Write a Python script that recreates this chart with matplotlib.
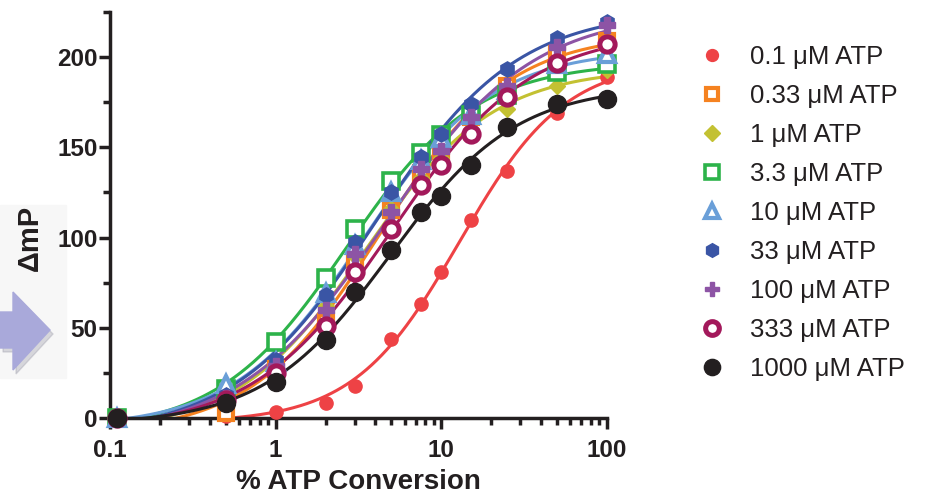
import numpy as np
import matplotlib
matplotlib.use("Agg")
import matplotlib.pyplot as plt
from matplotlib.patches import Polygon, Rectangle
from matplotlib.lines import Line2D
from matplotlib.ticker import FixedLocator, NullFormatter

plt.rcParams['font.family'] = ['Liberation Sans', 'DejaVu Sans']

# ---------------- data ----------------
conversion = [0.11, 0.5, 1, 2, 3, 5, 7.5, 10, 15, 25, 50, 100]

labels = ["0.1 \u03bcM ATP", "0.33 \u03bcM ATP", "1 \u03bcM ATP", "3.3 \u03bcM ATP",
          "10 \u03bcM ATP", "33 \u03bcM ATP", "100 \u03bcM ATP", "333 \u03bcM ATP",
          "1000 \u03bcM ATP"]

atp_0_1 = [0, 1, 3.5, 8.5, 18, 44, 63, 81, 110, 137, 169, 189]
atp_0_33 = [0, 3, 27, 53, 88, 115, 136, 148, 167, 184, 202, 209]
atp_1 = [0, 10, 28, 62, 90, 116, 133, 144, 160, 171, 184, 193]
atp_3_3 = [0, 16, 42, 77.5, 105, 131.5, 147, 157, 168, 179, 192, 196]
atp_10 = [0, 19, 31, 69, 96, 125, 143, 155, 168, 182, 196, 202]
atp_33 = [0, 13, 32, 68, 97.5, 125, 144.5, 157.5, 174, 193.5, 210.5, 219.5]
atp_100 = [0, 11, 29, 60, 91, 114, 138, 148, 167, 184, 205.5, 218]
atp_333 = [0, 10, 25, 51, 81, 105, 129, 140, 157.5, 178, 197, 207]
atp_1000 = [0, 8.5, 20, 43, 70, 93, 114, 123, 140, 161, 174, 177]

series = [atp_0_1, atp_0_33, atp_1, atp_3_3, atp_10, atp_33, atp_100, atp_333, atp_1000]

# ---------------- styles ----------------
colors = ['#ee4245', '#f58220', '#c3c132', '#2db34a', '#6a9fd8', '#3a55a5',
          '#8d54a5', '#a3195b', '#231f20']
styles = [
    dict(marker='o', ms=9.5, mfc=colors[0], mec=colors[0], mew=1),
    dict(marker='s', ms=10, mfc='white', mec=colors[1], mew=3),
    dict(marker='D', ms=8.5, mfc=colors[2], mec=colors[2], mew=1),
    dict(marker='s', ms=11, mfc='white', mec=colors[3], mew=2.6),
    dict(marker='^', ms=11, mfc='white', mec=colors[4], mew=3),
    dict(marker='h', ms=11, mfc=colors[5], mec=colors[5], mew=1),
    dict(marker='P', ms=11, mfc=colors[6], mec=colors[6], mew=1),
    dict(marker='o', ms=11, mfc='white', mec=colors[7], mew=3.6),
    dict(marker='o', ms=13, mfc=colors[8], mec=colors[8], mew=1),
]


def fit_4pl(x, y):
    x = np.asarray(x, float)
    y = np.asarray(y, float)
    lx = np.log10(x)
    best = None
    for lec in np.linspace(-0.5, 2.5, 301):
        for h in np.linspace(0.5, 3.0, 126):
            f = 1.0 / (1.0 + 10 ** ((lec - lx) * h))
            A = np.column_stack([1 - f, f])
            coef, *_ = np.linalg.lstsq(A, y, rcond=None)
            sse = np.sum((A @ coef - y) ** 2)
            if best is None or sse < best[0]:
                best = (sse, lec, h, coef)
    _, lec, h, (bot, top) = best
    return lambda xx: bot + (top - bot) / (1.0 + 10 ** ((lec - np.log10(xx)) * h))


# ---------------- figure ----------------
W, H = 926, 497
fig = plt.figure(figsize=(W / 100, H / 100), dpi=100)


def fx(px):
    return px / W


def fy(py):
    return 1 - py / H


# decorative background + arrow on the left edge
fig.patches.append(Rectangle((0, fy(378)), fx(66), fy(205) - fy(378),
                             transform=fig.transFigure, color='#f7f7f7',
                             zorder=-3))
arrow_pts = [(0, 312), (13, 312), (13, 292), (50, 330), (13, 370), (13, 348), (0, 348)]
shadow = Polygon([(fx(x + 3), fy(y + 4)) for x, y in arrow_pts], closed=True,
                 transform=fig.transFigure, color='#9a9aa8', alpha=0.35, zorder=-2)
arrow = Polygon([(fx(x), fy(y)) for x, y in arrow_pts], closed=True,
                transform=fig.transFigure, color='#a9a9da', zorder=-1)
fig.patches.extend([shadow, arrow])

ax = fig.add_axes([fx(110), fy(418), fx(607) - fx(110), fy(12) - fy(418)])
ax.set_zorder(1)
ax.patch.set_alpha(0)
ax.set_xscale('log')
ax.set_xlim(0.1, 100)
ax.set_ylim(0, 225)

xs = np.logspace(-1, 2, 400)
handles = []
for vals, st, col, lab in zip(series, styles, colors, labels):
    f = fit_4pl(conversion, vals)
    ax.plot(xs, f(xs), color=col, lw=2.2, zorder=2)
    ax.plot(conversion, vals, linestyle='none', clip_on=False, zorder=3, **st)
    hst = dict(st)
    hst['ms'] = st['ms'] * 0.9
    handles.append(Line2D([], [], linestyle='none', label=lab, **hst))

for s in ['top', 'right']:
    ax.spines[s].set_visible(False)
for s in ['left', 'bottom']:
    ax.spines[s].set_linewidth(2.5)
    ax.spines[s].set_color('#231f20')

ax.set_yticks([0, 50, 100, 150, 200])
ax.yaxis.set_minor_locator(FixedLocator([25, 75, 125, 175, 225]))
ax.set_xticks([0.1, 1, 10, 100])
ax.set_xticklabels(['0.1', '1', '10', '100'])
ax.xaxis.set_minor_locator(FixedLocator(
    [m * d for d in (0.1, 1, 10) for m in range(2, 10)]))
ax.xaxis.set_minor_formatter(NullFormatter())
ax.tick_params(which='major', length=8, width=2.5, color='#231f20',
               labelsize=17.5, pad=1)
ax.tick_params(axis='x', which='major', pad=7)
ax.tick_params(which='minor', length=5, width=2.5, color='#231f20')
for lab in ax.get_xticklabels() + ax.get_yticklabels():
    lab.set_fontweight('bold')
    lab.set_color('#231f20')

ax.set_xlabel('% ATP Conversion', fontsize=20, fontweight='bold', color='#231f20')
ax.xaxis.set_label_coords(0.5, -0.125)
ax.set_ylabel('\u0394mP', fontsize=21, fontweight='bold', color='#231f20')
ax.yaxis.set_label_coords(-0.133, 0.443)

fig.legend(handles=handles, loc='upper left', bbox_to_anchor=(fx(699), fy(45)),
           frameon=False, fontsize=18.5, labelspacing=0.585, handlelength=1.0,
           handletextpad=1.0, borderaxespad=0, borderpad=0,
           labelcolor='#231f20')

fig.savefig('out.png', dpi=100)
